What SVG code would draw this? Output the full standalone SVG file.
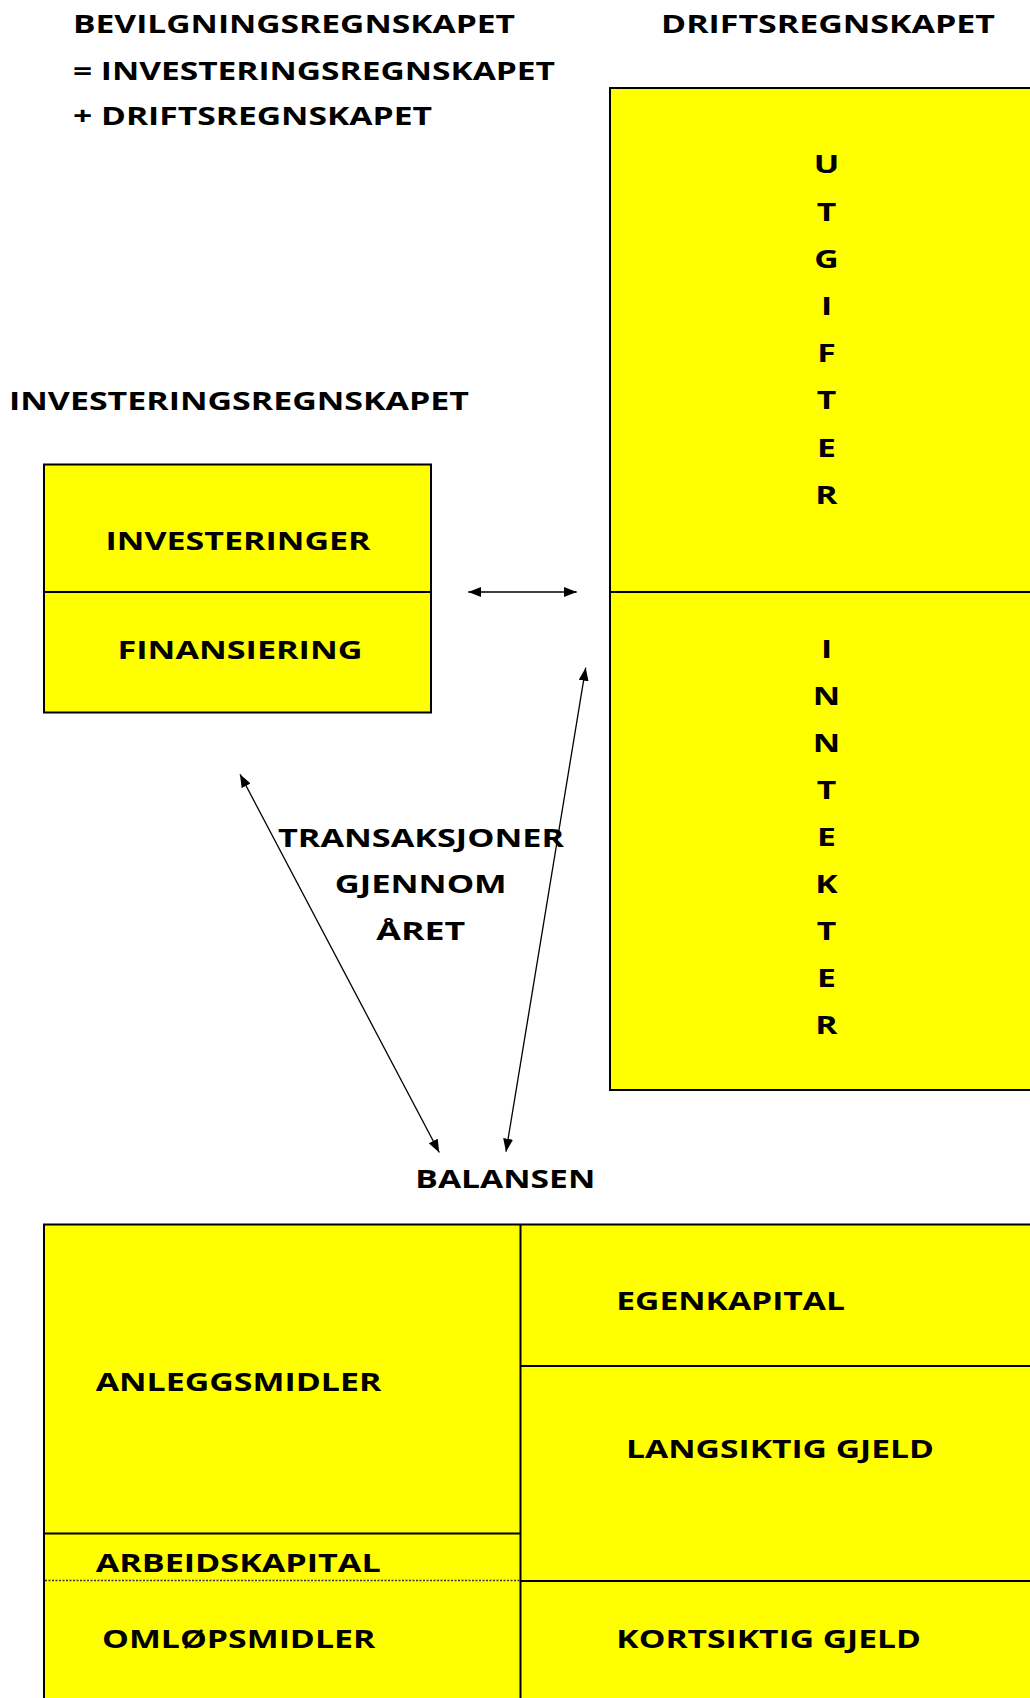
<svg xmlns="http://www.w3.org/2000/svg" width="1030" height="1698" viewBox="0 0 1030 1698">
<style>
.t{font-family:"Open Sans","DejaVu Sans",sans-serif;font-weight:bold;font-size:25px;fill:#000}
.box{fill:#FFFF00;stroke:#000;stroke-width:2}
.ln{stroke:#000;stroke-width:2;fill:none}
.dot{stroke:#333;stroke-width:1.5;stroke-dasharray:2 1.5;fill:none}
.arr{stroke:#000;stroke-width:1.3;fill:none;marker-start:url(#ah);marker-end:url(#ah)}
</style>
<defs>
<marker id="ah" viewBox="0 0 13 10" refX="13" refY="5" markerWidth="13" markerHeight="10" markerUnits="userSpaceOnUse" orient="auto-start-reverse">
<path d="M0,0 L13,5 L0,10 z" fill="#000"/>
</marker>
</defs>
<rect width="1030" height="1698" fill="#fff"/>

<g id="title">
<text class="t" x="73" y="32.5" textLength="442" lengthAdjust="spacingAndGlyphs">BEVILGNINGSREGNSKAPET</text>
<text class="t" x="73" y="80" textLength="482" lengthAdjust="spacingAndGlyphs">= INVESTERINGSREGNSKAPET</text>
<text class="t" x="73" y="125" textLength="359" lengthAdjust="spacingAndGlyphs">+ DRIFTSREGNSKAPET</text>
</g>

<g id="driftsregnskapet">
<text class="t" x="661" y="32.5" textLength="334" lengthAdjust="spacingAndGlyphs">DRIFTSREGNSKAPET</text>
<rect class="box" x="610" y="88" width="430" height="1002"/>
<line class="ln" x1="610" y1="592" x2="1032" y2="592"/>
<g transform="translate(826.5 0) scale(1.35 1)" text-anchor="middle">
<text class="t" x="0" y="173.5">U</text>
<text class="t" x="0" y="220.7">T</text>
<text class="t" x="0" y="267.9">G</text>
<text class="t" x="0" y="315">I</text>
<text class="t" x="0" y="362.2">F</text>
<text class="t" x="0" y="409.3">T</text>
<text class="t" x="0" y="456.6">E</text>
<text class="t" x="0" y="503.8">R</text>
<text class="t" x="0" y="658.5">I</text>
<text class="t" x="0" y="705.4">N</text>
<text class="t" x="0" y="752.3">N</text>
<text class="t" x="0" y="799.2">T</text>
<text class="t" x="0" y="846.1">E</text>
<text class="t" x="0" y="893">K</text>
<text class="t" x="0" y="939.9">T</text>
<text class="t" x="0" y="986.8">E</text>
<text class="t" x="0" y="1033.7">R</text>
</g>
</g>

<g id="investeringsregnskapet">
<text class="t" x="9" y="409.5" textLength="460" lengthAdjust="spacingAndGlyphs">INVESTERINGSREGNSKAPET</text>
<rect class="box" x="44" y="464.5" width="387" height="248"/>
<line class="ln" x1="44" y1="592" x2="431" y2="592"/>
<text class="t" x="105.5" y="550" textLength="265" lengthAdjust="spacingAndGlyphs">INVESTERINGER</text>
<text class="t" x="117.5" y="658.5" textLength="245" lengthAdjust="spacingAndGlyphs">FINANSIERING</text>
</g>

<g id="transaksjoner">
<text class="t" x="278" y="846.7" textLength="286" lengthAdjust="spacingAndGlyphs">TRANSAKSJONER</text>
<text class="t" x="334.7" y="893.3" textLength="172" lengthAdjust="spacingAndGlyphs">GJENNOM</text>
<text class="t" x="376.3" y="940" textLength="89" lengthAdjust="spacingAndGlyphs">ÅRET</text>
</g>

<g id="balansen">
<text class="t" x="415.3" y="1188.3" textLength="180" lengthAdjust="spacingAndGlyphs">BALANSEN</text>
<rect class="box" x="44" y="1224.5" width="996" height="490"/>
<line class="ln" x1="520.5" y1="1224.5" x2="520.5" y2="1700"/>
<line class="ln" x1="44" y1="1533.5" x2="521" y2="1533.5"/>
<line class="dot" x1="45" y1="1580.5" x2="520" y2="1580.5"/>
<line class="ln" x1="520.5" y1="1366" x2="1032" y2="1366"/>
<line class="ln" x1="520.5" y1="1581" x2="1032" y2="1581"/>
<text class="t" x="95.7" y="1391" textLength="285.6" lengthAdjust="spacingAndGlyphs">ANLEGGSMIDLER</text>
<text class="t" x="95.7" y="1571.7" textLength="285" lengthAdjust="spacingAndGlyphs">ARBEIDSKAPITAL</text>
<text class="t" x="102" y="1648.3" textLength="273.3" lengthAdjust="spacingAndGlyphs">OMLØPSMIDLER</text>
<text class="t" x="616.3" y="1310" textLength="228.7" lengthAdjust="spacingAndGlyphs">EGENKAPITAL</text>
<text class="t" x="626" y="1458.3" textLength="308" lengthAdjust="spacingAndGlyphs">LANGSIKTIG GJELD</text>
<text class="t" x="616.3" y="1648.3" textLength="304.7" lengthAdjust="spacingAndGlyphs">KORTSIKTIG GJELD</text>
</g>

<g id="connectors">
<line class="arr" x1="468.3" y1="592" x2="576.7" y2="592"/>
<line class="arr" x1="240" y1="774.3" x2="439.3" y2="1152.5"/>
<line class="arr" x1="585.7" y1="667.7" x2="506" y2="1151.7"/>
</g>
</svg>
